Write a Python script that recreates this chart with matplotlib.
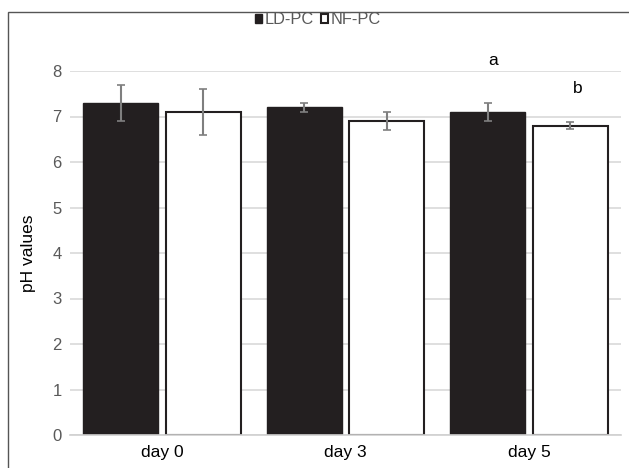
import matplotlib.pyplot as plt
from matplotlib.patches import Patch, Rectangle
import numpy as np

### Data
days = ['day 0', 'day 3', 'day 5']
ld_pc = [7.3, 7.2, 7.1]
ld_err = [0.4, 0.1, 0.2]
nf_pc = [7.1, 6.9, 6.8]
nf_err = [0.5, 0.2, 0.08]
letters = ['a', 'b']
letter_y = [8.22, 7.62]

plt.rcParams['font.family'] = ['Liberation Sans', 'DejaVu Sans']
gray_txt = '#595959'

fig = plt.figure(figsize=(6.29, 4.68), dpi=100)
ax = fig.add_axes([70/629, 1 - 435/468, 551/629, 364/468])

# outer chart frame (cut off on right and bottom)
fig.patches.append(Rectangle((8/629, -0.1), 1.2, 1 - 12/468 + 0.1,
                             transform=fig.transFigure, fill=False,
                             edgecolor='#555555', linewidth=1.0))

x = np.arange(len(days))
w = 0.41
off = 0.225
ax.bar(x - off, ld_pc, w, color='#231f20', edgecolor='#231f20', zorder=2)
ax.bar(x + off, nf_pc, w, color='white', edgecolor='#231f20', linewidth=1.5, zorder=2)
ax.errorbar(x - off, ld_pc, yerr=ld_err, fmt='none', ecolor='#7f7f7f',
            elinewidth=1.5, capsize=3, capthick=1.2, zorder=3)
ax.errorbar(x + off, nf_pc, yerr=nf_err, fmt='none', ecolor='#7f7f7f',
            elinewidth=1.5, capsize=3, capthick=1.2, zorder=3)

# significance letters over day 5
ax.text(x[2] - off + 0.03, letter_y[0], letters[0], ha='center', va='center',
        fontsize=12.5, color='black', clip_on=False)
ax.text(x[2] + off + 0.04, letter_y[1], letters[1], ha='center', va='center',
        fontsize=12.5, color='black', clip_on=False)

ax.set_xlim(-0.5, 2.5)
ax.set_ylim(0, 8)
ax.set_yticks(range(0, 9))
ax.set_xticks(x)
ax.set_xticklabels(days)
ax.tick_params(axis='both', length=0, labelcolor=gray_txt)
ax.tick_params(axis='x', pad=7, labelcolor='black', labelsize=12.5)
ax.tick_params(axis='y', pad=6, labelsize=12)
ax.yaxis.grid(True, color='#d9d9d9', linewidth=1.2, zorder=0)
ax.set_axisbelow(True)
for s in ['top', 'right', 'left']:
    ax.spines[s].set_visible(False)
ax.spines['bottom'].set_color('#d0d0d0')
ax.spines['bottom'].set_linewidth(1.2)

ax.set_ylabel('pH values', fontsize=12.5, color='black', labelpad=12)

handles = [Patch(facecolor='#231f20', edgecolor='#231f20', label='LD-PC'),
           Patch(facecolor='white', edgecolor='#231f20', linewidth=1.5, label='NF-PC')]
fig.legend(handles=handles, loc='center', bbox_to_anchor=(318/629, 1 - 20/468),
           ncol=2, frameon=False, fontsize=11.8, handlelength=0.42, handleheight=0.42,
           handletextpad=0.2, columnspacing=0.4, labelcolor=gray_txt)

fig.savefig('out.png', dpi=100)
